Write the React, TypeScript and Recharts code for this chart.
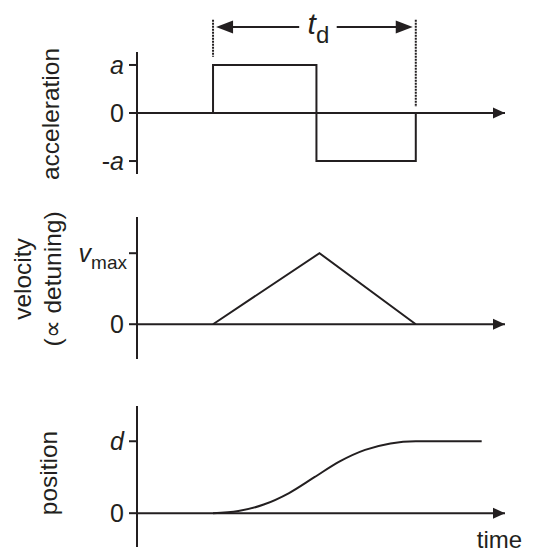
import { Line, LineChart, ReferenceDot, ReferenceLine, XAxis, YAxis } from "recharts";

const INK = "#231f20";
const FONT = "'Liberation Sans', Arial, Helvetica, sans-serif";

// time axis (unit = half of t_d)
const T_MIN = -0.75;
const T_MAX = 2.88;

// acceleration: square pulse +a then -a
const accTime = [0, 0, 1.02, 1.02, 2, 2];
const accValue = [0, 1, 1, -1, -1, 0];

// velocity: triangle up to v_max
const velTime = [0, 1.05, 2];
const velValue = [0, 1, 0];

// position: S-curve from 0 to d, then flat
const posTime = [0, 0.25, 0.5, 0.75, 1, 1.25, 1.5, 1.75, 2, 2.65];
const posValue = [0, 0.03, 0.12, 0.28, 0.5, 0.72, 0.88, 0.97, 1, 1];

const accTicks = [-1, 0, 1];
const velTicks = [0, 1];
const posTicks = [0, 1];

// t_d annotation (in acceleration-panel units)
const tdGuideTop = 1.94;
const tdGuideBottom = [1.17, 0.125];
const tdArrowY = 1.79;
const tdLeft = [0.03, 0.85];
const tdRight = [1.97, 1.22];
const tdLabelX = 1.04;

const Y_AXIS_W = 80;
const MARGIN_LEFT = 137 - Y_AXIS_W;
const MARGIN_RIGHT = 534 - 505;

const toRows = (ts: number[], vs: number[]) => ts.map((t, i) => ({ t, v: vs[i] }));

type TickLabel = "a" | "0" | "-a" | "vmax" | "d";

function MathTick(props: any) {
  const { x, y, payload, labels } = props;
  const lab: TickLabel = labels[String(payload.value)];
  let body: any = lab;
  if (lab === "a" || lab === "d") body = <tspan fontStyle="italic">{lab}</tspan>;
  if (lab === "-a")
    body = (
      <>
        <tspan>-</tspan>
        <tspan fontStyle="italic">a</tspan>
      </>
    );
  if (lab === "vmax")
    body = (
      <>
        <tspan fontStyle="italic">v</tspan>
        <tspan fontSize={19} dy={7}>
          max
        </tspan>
      </>
    );
  return (
    <text
      x={lab === "vmax" ? x + 3 : x}
      y={y}
      dy="0.36em"
      textAnchor="end"
      fontSize={25}
      fill={INK}
      fontFamily={FONT}
    >
      {body}
    </text>
  );
}

function AxisArrow(props: any) {
  const { cx, cy, withTime } = props;
  return (
    <g>
      <polygon points={`${cx},${cy} ${cx - 12},${cy - 5.5} ${cx - 12},${cy + 5.5}`} fill={INK} />
      {withTime && (
        <text x={cx - 5.5} y={cy + 35} textAnchor="middle" fontSize={24} fill={INK} fontFamily={FONT}>
          time
        </text>
      )}
    </g>
  );
}

// line with an arrowhead at its first point
function ArrowLine(props: any) {
  const { x1, y1, x2, y2 } = props;
  const dir = Math.sign(x2 - x1);
  const hl = 17;
  return (
    <g>
      <line x1={x1 + dir * hl * 0.6} y1={y1} x2={x2} y2={y2} stroke={INK} strokeWidth={2} />
      <polygon
        points={`${x1},${y1} ${x1 + dir * hl},${y1 - 6.5} ${x1 + dir * hl},${y1 + 6.5}`}
        fill={INK}
      />
    </g>
  );
}

function TdLabel(props: any) {
  const { cx, cy } = props;
  return (
    <text x={cx} y={cy + 7} textAnchor="middle" fill={INK} fontFamily={FONT}>
      <tspan fontStyle="italic" fontSize={30}>
        t
      </tspan>
      <tspan fontSize={24} dy={9}>
        d
      </tspan>
    </text>
  );
}

function YTitle({ lines, x, y }: { lines: string[]; x: number[]; y: number }) {
  return (
    <g>
      {lines.map((s, i) => (
        <text
          key={s}
          x={x[i]}
          y={y}
          textAnchor="middle"
          fontSize={24.5}
          fill={INK}
          fontFamily={FONT}
          transform={`rotate(-90, ${x[i]}, ${y})`}
        >
          {s}
        </text>
      ))}
    </g>
  );
}

function Panel(props: {
  top: number;
  height: number;
  marginTop: number;
  marginBottom: number;
  data: { t: number; v: number }[];
  domain: [number, number];
  ticks: number[];
  labels: Record<string, TickLabel>;
  curve: "linear" | "monotone";
  title: string[];
  titleX: number[];
  titleY: number;
  withTime?: boolean;
  children?: any;
}) {
  return (
    <div style={{ position: "absolute", left: 0, top: props.top }}>
      <LineChart
        width={534}
        height={props.height}
        data={props.data}
        margin={{ top: props.marginTop, bottom: props.marginBottom, left: MARGIN_LEFT, right: MARGIN_RIGHT }}
        style={{ overflow: "visible" }}
      >
        <XAxis type="number" dataKey="t" domain={[T_MIN, T_MAX]} allowDataOverflow hide />
        <YAxis
          type="number"
          width={Y_AXIS_W}
          domain={props.domain}
          allowDataOverflow
          ticks={props.ticks}
          interval={0}
          tickSize={8}
          tickMargin={5}
          axisLine={{ stroke: INK, strokeWidth: 2 }}
          tickLine={{ stroke: INK, strokeWidth: 2 }}
          tick={(p: any) => <MathTick {...p} labels={props.labels} />}
        />
        <ReferenceLine y={0} stroke={INK} strokeWidth={2} ifOverflow="visible" />
        <ReferenceDot
          x={T_MAX}
          y={0}
          r={0}
          ifOverflow="visible"
          shape={(p: any) => <AxisArrow {...p} withTime={props.withTime} />}
        />
        {props.children}
        <Line
          type={props.curve}
          dataKey="v"
          stroke={INK}
          strokeWidth={2}
          dot={false}
          activeDot={false}
          isAnimationActive={false}
        />
        <YTitle lines={props.title} x={props.titleX} y={props.titleY} />
      </LineChart>
    </div>
  );
}

export default function App() {
  return (
    <div
      style={{
        position: "absolute",
        left: 0,
        top: 0,
        width: 534,
        height: 552,
        background: "#fff",
        fontFamily: FONT,
        overflow: "hidden",
      }}
    >
      <Panel
        top={0}
        height={200}
        marginTop={52}
        marginBottom={26}
        data={toRows(accTime, accValue)}
        domain={[-1.27, 1.27]}
        ticks={accTicks}
        labels={{ "1": "a", "0": "0", "-1": "-a" }}
        curve="linear"
        title={["acceleration"]}
        titleX={[59]}
        titleY={114}
      >
        <ReferenceLine
          segment={[
            { x: 0, y: tdGuideTop },
            { x: 0, y: tdGuideBottom[0] },
          ]}
          stroke={INK}
          strokeWidth={2}
          strokeDasharray="2 1"
          ifOverflow="visible"
        />
        <ReferenceLine
          segment={[
            { x: 2, y: tdGuideTop },
            { x: 2, y: tdGuideBottom[1] },
          ]}
          stroke={INK}
          strokeWidth={2}
          strokeDasharray="2 1"
          ifOverflow="visible"
        />
        <ReferenceLine
          segment={[
            { x: tdLeft[0], y: tdArrowY },
            { x: tdLeft[1], y: tdArrowY },
          ]}
          ifOverflow="visible"
          shape={(p: any) => <ArrowLine {...p} />}
        />
        <ReferenceLine
          segment={[
            { x: tdRight[0], y: tdArrowY },
            { x: tdRight[1], y: tdArrowY },
          ]}
          ifOverflow="visible"
          shape={(p: any) => <ArrowLine {...p} />}
        />
        <ReferenceDot x={tdLabelX} y={tdArrowY} r={0} ifOverflow="visible" shape={(p: any) => <TdLabel {...p} />} />
      </Panel>
      <Panel
        top={200}
        height={180}
        marginTop={17}
        marginBottom={21}
        data={toRows(velTime, velValue)}
        domain={[-0.49, 1.51]}
        ticks={velTicks}
        labels={{ "1": "vmax", "0": "0" }}
        curve="linear"
        title={["velocity", "(\u221d detuning)"]}
        titleX={[31, 61]}
        titleY={79}
      />
      <Panel
        top={380}
        height={172}
        marginTop={26}
        marginBottom={5}
        data={toRows(posTime, posValue)}
        domain={[-0.47, 1.49]}
        ticks={posTicks}
        labels={{ "1": "d", "0": "0" }}
        curve="monotone"
        title={["position"]}
        titleX={[57]}
        titleY={93}
        withTime
      />
    </div>
  );
}
